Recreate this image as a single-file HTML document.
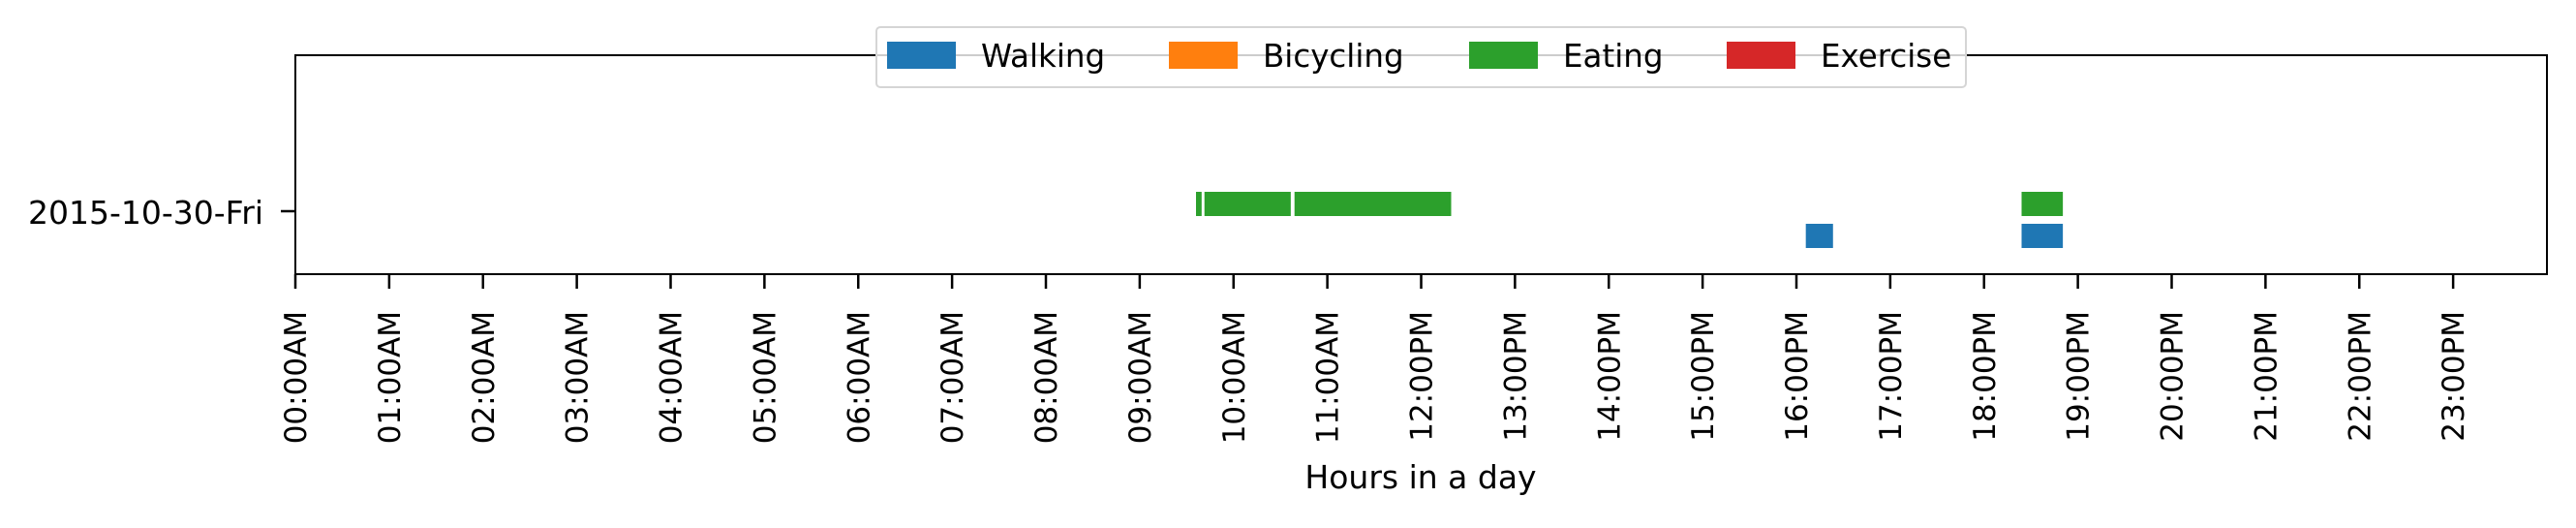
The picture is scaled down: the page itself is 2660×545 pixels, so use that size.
<!DOCTYPE html>
<html><head><meta charset="utf-8"><style>
body{margin:0;background:#fff}
svg text{font-family:"DejaVu Sans","Liberation Sans",sans-serif;fill:#000}
</style></head><body>
<svg id="chart" width="2660" height="540" viewBox="0 0 2660 540" xmlns="http://www.w3.org/2000/svg">
<rect x="0" y="0" width="2660" height="540" fill="#fff"/>
<g id="marks"></g>
<g id="axes"></g>
<g id="legend"></g>
</svg>
<script>
const dayLabels = ["2015-10-30-Fri"];
const eatingStart = [9.60, 9.69, 10.65, 18.40];
const eatingEnd = [9.66, 10.61, 12.32, 18.84];
const walkingStart = [16.10, 18.40];
const walkingEnd = [16.39, 18.84];
const hourTicks = [0,1,2,3,4,5,6,7,8,9,10,11,12,13,14,15,16,17,18,19,20,21,22,23];
const tickLabels = ["00:00AM","01:00AM","02:00AM","03:00AM","04:00AM","05:00AM","06:00AM","07:00AM","08:00AM","09:00AM","10:00AM","11:00AM","12:00PM","13:00PM","14:00PM","15:00PM","16:00PM","17:00PM","18:00PM","19:00PM","20:00PM","21:00PM","22:00PM","23:00PM"];
const legendLabels = ["Walking","Bicycling","Eating","Exercise"];
const legendColors = ["#1f77b4","#ff7f0e","#2ca02c","#d62728"];

const NS="http://www.w3.org/2000/svg";
const L=305,R=2630,T=57,B=283;
const xs=h=>L+(h/24)*(R-L);
const dayY=i=>218+i*100;
function mk(tag,attrs,parent){const e=document.createElementNS(NS,tag);for(const k in attrs)e.setAttribute(k,attrs[k]);parent.appendChild(e);return e;}
const marks=document.getElementById('marks'),axes=document.getElementById('axes'),legend=document.getElementById('legend');

eatingStart.forEach((s,i)=>{
  const r=mk('rect',{x:xs(s),y:dayY(0)-20,width:xs(eatingEnd[i])-xs(s),height:25,fill:legendColors[2]},marks);
  
  
});
walkingStart.forEach((s,i)=>{
  const r=mk('rect',{x:xs(s),y:dayY(0)+13,width:xs(walkingEnd[i])-xs(s),height:25,fill:legendColors[0]},marks);
  
  
});

const frame=mk('rect',{x:L,y:T,width:R-L,height:B-T,fill:'none',stroke:'#000','stroke-width':2},axes);



hourTicks.forEach((h,i)=>{
  const x=xs(h);
  const t=mk('line',{x1:x,y1:B,x2:x,y2:B+15,stroke:'#000','stroke-width':2.5},axes);
  
  
  const tx=mk('text',{x:0,y:0,transform:`translate(${x+11},321) rotate(-90)`,'text-anchor':'end','font-size':'31'},axes);
  tx.textContent=tickLabels[i];
  
  
});
dayLabels.forEach((d,i)=>{
  const y=dayY(i);
  const t=mk('line',{x1:L-15,y1:y,x2:L,y2:y,stroke:'#000','stroke-width':2.5},axes);
  
  
  const tx=mk('text',{x:272,y:y+13,'text-anchor':'end','font-size':'33'},axes);
  tx.textContent=d;
  
  
});
const xl=mk('text',{x:1467,y:504,'text-anchor':'middle','font-size':'33'},axes);
xl.textContent='Hours in a day';



const box=mk('rect',{x:905,y:28,width:1125,height:62,rx:4,fill:'#fff','fill-opacity':0.8,stroke:'#d5d5d5','stroke-width':2},legend);


const patchX=[916,1207,1517,1783];
legendLabels.forEach((lab,i)=>{
  const g=mk('g',{},legend);
  
  
  mk('rect',{x:patchX[i],y:43,width:71,height:28,fill:legendColors[i]},g);
  const tx=mk('text',{x:patchX[i]+97,y:69,'font-size':'32.5'},g);
  tx.textContent=lab;
});
</script>
</body></html>
